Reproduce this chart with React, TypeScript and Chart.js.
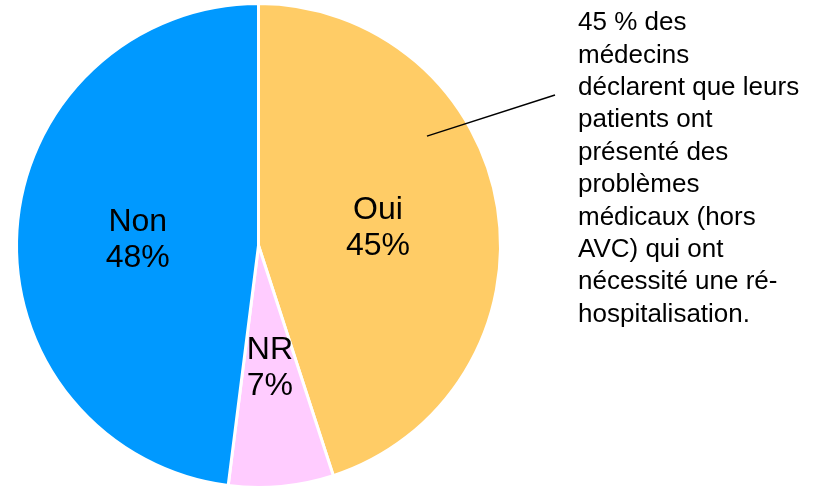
import React, { useEffect, useRef } from "react";
import { Chart, registerables } from "chart.js";

Chart.register(...registerables);

const categories = ["Oui", "NR", "Non"];
const values = [45, 7, 48];
const colors = ["#FFCC66", "#FFCCFF", "#0099FF"];
const noteLines = [
  "45 % des",
  "médecins",
  "déclarent que leurs",
  "patients ont",
  "présenté des",
  "problèmes",
  "médicaux (hors",
  "AVC) qui ont",
  "nécessité une ré-",
  "hospitalisation.",
];

const W = 815;
const H = 486;
const CH = 490;
const FONT = "'Liberation Sans', Arial, sans-serif";

const labelPlugin = {
  id: "sliceLabels",
  afterDatasetsDraw(chart: any) {
    const ctx = chart.ctx;
    const meta = chart.getDatasetMeta(0);
    ctx.save();
    ctx.fillStyle = "#000";
    ctx.font = `32px ${FONT}`;
    ctx.textAlign = "center";
    ctx.textBaseline = "middle";
    meta.data.forEach((arc: any, i: number) => {
      const p = arc.getCenterPoint();
      ctx.fillText(categories[i], p.x, p.y - 16);
      ctx.fillText(values[i] + "%", p.x, p.y + 20);
    });
    // annotation
    const first = meta.data[0];
    const cx = first.x;
    const cy = first.y;
    const r = first.outerRadius;
    const ang = (-33 * Math.PI) / 180;
    const sx = cx + r * 0.83 * Math.cos(ang);
    const sy = cy + r * 0.83 * Math.sin(ang);
    ctx.strokeStyle = "#000";
    ctx.lineWidth = 1.5;
    ctx.beginPath();
    ctx.moveTo(sx, sy);
    ctx.lineTo(555, 95);
    ctx.stroke();
    ctx.font = `26px ${FONT}`;
    ctx.textAlign = "left";
    noteLines.forEach((t, i) => {
      ctx.fillText(t, 578, 23 + i * 32.4);
    });
    ctx.restore();
  },
};

export default function App() {
  const ref = useRef<HTMLCanvasElement>(null);
  useEffect(() => {
    document.body.style.margin = "0";
    document.body.style.overflow = "hidden";
    const chart = new Chart(ref.current!, {
      type: "pie",
      data: {
        labels: categories,
        datasets: [
          {
            data: values,
            backgroundColor: colors,
            borderColor: "#FFFFFF",
            borderWidth: 3,
          },
        ],
      },
      options: {
        responsive: false,
        animation: false,
        layout: { padding: { left: 15, right: 313, top: 2, bottom: 1 } },
        plugins: {
          legend: { display: false },
          tooltip: { enabled: false },
        },
      },
      plugins: [labelPlugin],
    });
    return () => chart.destroy();
  }, []);
  return (
    <div style={{ position: "absolute", left: 0, top: 0, width: W, height: H, overflow: "hidden", background: "#fff" }}>
      <canvas ref={ref} width={W} height={CH} style={{ width: W, height: CH, display: "block" }} />
    </div>
  );
}
